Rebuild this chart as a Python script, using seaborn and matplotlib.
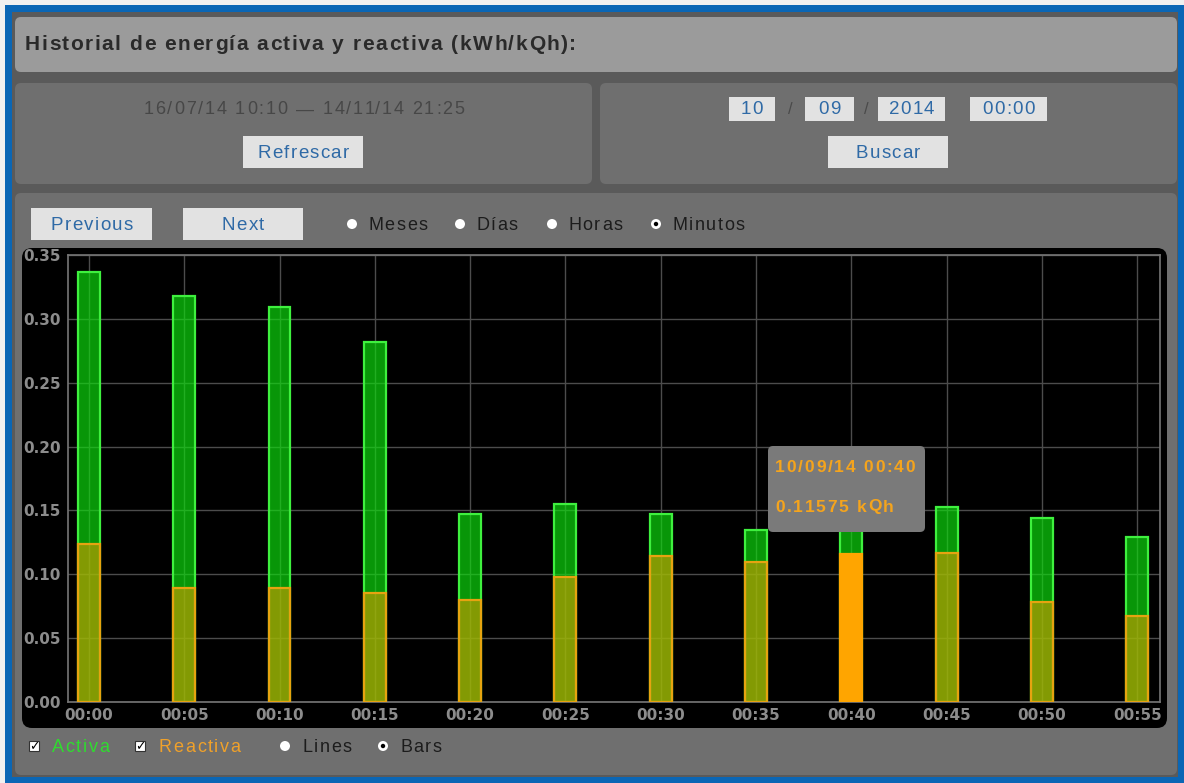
import pandas as pd
import seaborn as sns
import matplotlib.pyplot as plt
from matplotlib.font_manager import FontProperties
from matplotlib.patches import FancyBboxPatch, Rectangle, Circle

# data
minutos = ["00:00", "00:05", "00:10", "00:15", "00:20", "00:25",
           "00:30", "00:35", "00:40", "00:45", "00:50", "00:55"]
activa = [0.337, 0.318, 0.309, 0.282, 0.147, 0.155,
          0.147, 0.135, 0.150, 0.153, 0.144, 0.129]
reactiva = [0.124, 0.089, 0.089, 0.085, 0.080, 0.098,
            0.114, 0.110, 0.11575, 0.117, 0.078, 0.067]
y_ticks = [0.00, 0.05, 0.10, 0.15, 0.20, 0.25, 0.30, 0.35]
seleccion = 8
tooltip_fecha = "10/09/14 00:40"
tooltip_valor = "0.11575 kQh"
rango = "16/07/14 10:10 \u2014 14/11/14 21:25"
fecha_campos = ["10", "09", "2014", "00:00"]
escalas = ["Meses", "Días", "Horas", "Minutos"]

sns.set_style("dark")
plt.rcParams['font.family'] = ['Liberation Sans', 'DejaVu Sans']

AZUL_TXT = '#2f6aa6'

fig = plt.figure(figsize=(11.84, 7.83), dpi=100, facecolor='#f0f0f0')
renderer = fig.canvas.get_renderer()


def ancho(s, prop):
    # ink width of s up to the start of a trailing bar, so spaces count
    w_bar = renderer.get_text_width_height_descent("|", prop, ismath=False)[0]
    return renderer.get_text_width_height_descent(s + "|", prop, ismath=False)[0] - w_bar


def texto(ax, x, y, s, size, color, weight='normal', sp=2.0, ha='left', z=3):
    # letter-spaced text, like the css of the page
    prop = FontProperties(family=['Liberation Sans', 'DejaVu Sans'], size=size, weight=weight)
    total = ancho(s, prop) + sp * (len(s) - 1)
    x0 = x - total / 2 if ha == 'center' else x
    for i, ch in enumerate(s):
        if ch == " ":
            continue
        ax.text(x0 + ancho(s[:i], prop) + sp * i, y, ch, fontproperties=prop,
                color=color, va='center', ha='left', zorder=z)


def caja(ax, x0, y0, x1, y1, color, r=6, z=1):
    ax.add_patch(FancyBboxPatch((x0, y0), x1 - x0, y1 - y0,
                                boxstyle=f"round,pad=0,rounding_size={r}",
                                fc=color, ec='none', zorder=z))


def boton(ax, x0, y0, x1, y1, etiqueta, size=13.5):
    ax.add_patch(Rectangle((x0, y0), x1 - x0, y1 - y0, fc='#e2e2e2', ec='none', zorder=2))
    texto(ax, (x0 + x1) / 2, (y0 + y1) / 2 + 1, etiqueta, size, AZUL_TXT, sp=1.3, ha='center')


def radio(ax, x, y, marcado=False):
    ax.add_patch(Circle((x, y), 5, fc='white', ec='none', zorder=3))
    if marcado:
        ax.add_patch(Circle((x, y), 2.2, fc='black', ec='none', zorder=4))


def check(ax, x, y):
    ax.add_patch(Rectangle((x - 5, y - 5), 10, 10, fc='white', ec='#333333', lw=0.8, zorder=3))
    ax.text(x, y + 0.5, "\u2713", family='DejaVu Sans', fontsize=9, fontweight='bold',
            color='black', ha='center', va='center', zorder=4)


# background / page
bg = fig.add_axes([0, 0, 1, 1], zorder=0)
bg.set_xlim(0, 1184)
bg.set_ylim(783, 0)
bg.axis('off')
bg.add_patch(Rectangle((5, 5), 1179, 778, fc='#0a66b5', ec='none'))
bg.add_patch(Rectangle((12, 12), 1166, 765, fc='#5a5a5a', ec='none'))

# title panel
caja(bg, 15, 17, 1177, 72, '#9b9b9b')
texto(bg, 25, 45, "Historial de energía activa y reactiva (kWh/kQh):", 15, '#2a2a2a',
      weight='bold', sp=1.5)

# range panel
caja(bg, 15, 83, 592, 184, '#6f6f6f')
texto(bg, 304, 110, rango, 13, '#474747', sp=1.8, ha='center')
boton(bg, 243, 136, 363, 168, "Refrescar")

# search panel
caja(bg, 600, 83, 1177, 184, '#6f6f6f')
for (x0, x1), campo in zip([(729, 775), (805, 854), (878, 945), (970, 1047)], fecha_campos):
    bg.add_patch(Rectangle((x0, 97), x1 - x0, 24, fc='#e2e2e2', ec='none', zorder=2))
    texto(bg, (x0 + x1) / 2, 110, campo, 13.5, AZUL_TXT, sp=1.2, ha='center')
for xs in [790, 866]:
    bg.text(xs, 110, "/", fontsize=12, color='#4a4a4a', ha='center', va='center')
boton(bg, 828, 136, 948, 168, "Buscar")

# chart panel
caja(bg, 15, 193, 1177, 775, '#6f6f6f')
boton(bg, 31, 208, 152, 240, "Previous")
boton(bg, 183, 208, 303, 240, "Next")
for xc, etiqueta in zip([352, 460, 552, 656], escalas):
    radio(bg, xc, 224, marcado=(etiqueta == "Minutos"))
    texto(bg, xc + 16, 225, etiqueta, 13, '#1c1c1c', sp=1.6)

caja(bg, 22, 248, 1167, 728, 'black', r=10, z=2)

# bottom controls
check(bg, 34, 746)
texto(bg, 52, 747, "Activa", 13, '#2fdc2f', sp=1.6)
check(bg, 140, 746)
texto(bg, 159, 747, "Reactiva", 13, '#f0a12a', sp=1.6)
radio(bg, 285, 746)
texto(bg, 302, 747, "Lines", 13, '#1c1c1c', sp=1.6)
radio(bg, 383, 746, marcado=True)
texto(bg, 400, 747, "Bars", 13, '#1c1c1c', sp=1.6)

# chart
ax = fig.add_axes([68 / 1184, (783 - 702) / 783, 1092 / 1184, 447 / 783], zorder=2)
ax.set_facecolor('black')
df = pd.DataFrame({"Minuto": minutos, "Activa": activa, "Reactiva": reactiva})

sns.barplot(data=df, x="Minuto", y="Activa", color='#11a011', width=0.23,
            saturation=1, errorbar=None, ax=ax, zorder=2)
sns.barplot(data=df, x="Minuto", y="Reactiva", color='#ffa500', width=0.23,
            saturation=1, errorbar=None, ax=ax, zorder=3)

n = len(minutos)
for i, p in enumerate(ax.patches):
    if i < n:
        p.set_facecolor((0.05, 0.87, 0.05, 0.68))
        p.set_edgecolor('#3ef03e')
    else:
        p.set_facecolor((1.0, 0.62, 0.0, 0.5))
        p.set_edgecolor('#e6a310')
    p.set_linewidth(1.6)
ax.patches[n + seleccion].set_facecolor('#ffa500')
ax.patches[n + seleccion].set_edgecolor('#ffa500')

ax.set_xlim(-0.22, 11.24)
ax.set_ylim(0, 0.35)
ax.set_yticks(y_ticks)
ax.set_yticklabels([f"{v:.2f}" for v in y_ticks])
ax.set_xlabel("")
ax.set_ylabel("")
ax.set_axisbelow(True)
ax.grid(True, color='#4c4c4c', linewidth=1)
ax.tick_params(colors='#8c8c8c', labelsize=11, length=0, pad=5)
ax.tick_params(axis='x', pad=4)
for lab in ax.get_xticklabels() + ax.get_yticklabels():
    lab.set_family('DejaVu Sans')
    lab.set_fontweight('bold')
for s in ax.spines.values():
    s.set_color('#767676')
    s.set_linewidth(1.2)

# tooltip overlay
ov = fig.add_axes([0, 0, 1, 1], zorder=3)
ov.set_xlim(0, 1184)
ov.set_ylim(783, 0)
ov.axis('off')
ov.patch.set_alpha(0)
caja(ov, 768, 446, 925, 532, '#7a7a7a', r=5)
texto(ov, 775, 468, tooltip_fecha, 12.5, '#f5a41c', weight='bold', sp=1.8)
texto(ov, 775, 507, tooltip_valor, 12.5, '#f5a41c', weight='bold', sp=1.8)

fig.savefig("out.png", dpi=100, facecolor=fig.get_facecolor())
